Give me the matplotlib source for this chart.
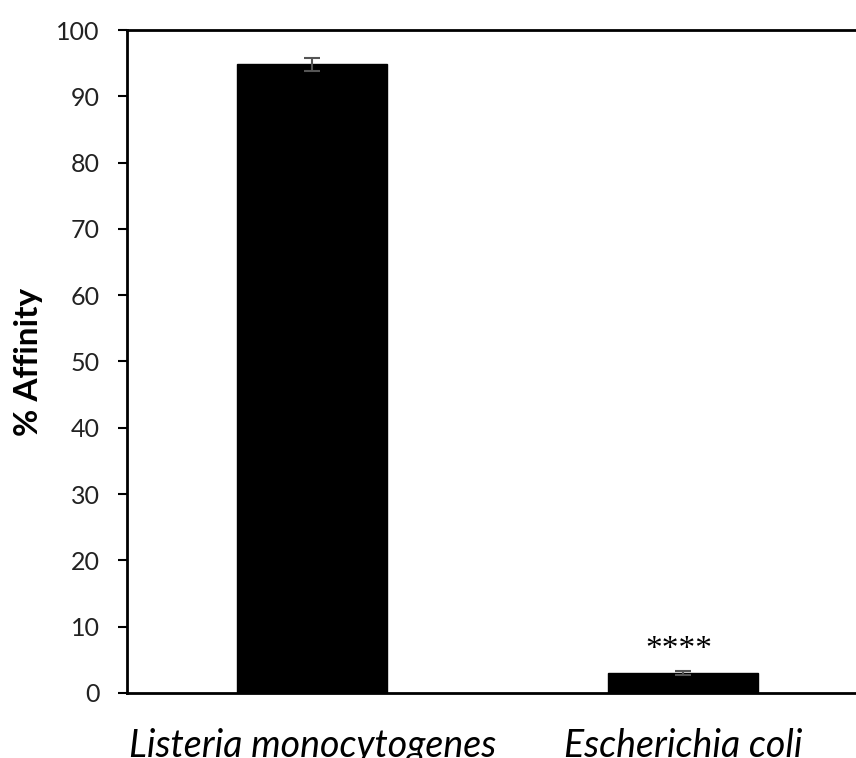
import matplotlib
matplotlib.use('Agg')
import matplotlib.pyplot as plt
import numpy as np

# --- data ---
species = ['Listeria monocytogenes', 'Escherichia coli']
affinity = [94.8, 3.0]
affinity_err = [1.0, 0.35]
signif = ['', '****']
y_ticks = [0, 10, 20, 30, 40, 50, 60, 70, 80, 90, 100]

plt.rcParams['font.family'] = ['Lato', 'DejaVu Sans']

fig = plt.figure(figsize=(8.56, 7.58), dpi=100)
# right edge runs past the figure like in the cropped original
ax = fig.add_axes([0.1484, 0.0858, 0.8657, 0.8746])

x = np.arange(len(species))
ax.bar(x, affinity, width=0.405, color='black', edgecolor='black', zorder=2)
ax.errorbar(x, affinity, yerr=affinity_err, fmt='none', ecolor='#555555',
            elinewidth=1.5, capsize=6, capthick=1.5, zorder=3)

for xi, val, err, s in zip(x, affinity, affinity_err, signif):
    if s:
        ax.text(xi - 0.01, val + err + 3.2, s, ha='center', va='center',
                fontsize=24, family='Liberation Serif')

ax.set_xlim(-0.5, 1.5)
ax.set_ylim(0, 100)
ax.set_yticks(y_ticks)
ax.set_xticks(x)
ax.set_xticklabels(species, fontsize=27, style='italic')
ax.tick_params(axis='x', length=0, pad=25)
ax.tick_params(axis='y', direction='out', length=6.5, width=1.5, pad=13,
               labelsize=18, colors='black', labelcolor='#222222')
ax.set_ylabel('% Affinity', fontsize=24, fontweight='bold', labelpad=10)

for side in ['left', 'bottom', 'top']:
    ax.spines[side].set_linewidth(2)
ax.spines['right'].set_visible(False)

fig.savefig('out.png', dpi=100)
